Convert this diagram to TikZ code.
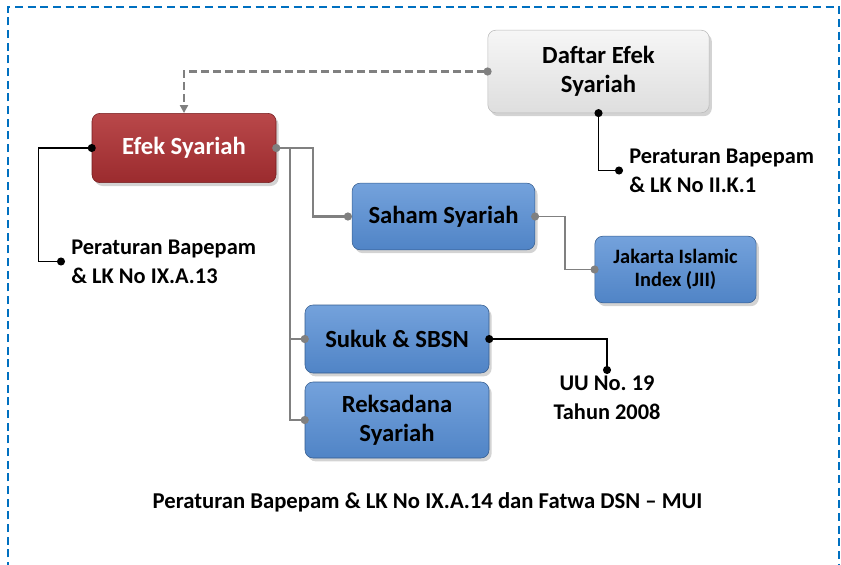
\documentclass[tikz,border=0pt]{standalone}
\usepackage{fontspec}
\setmainfont{Carlito}
\usetikzlibrary{arrows.meta,shadows}

\definecolor{frameblue}{RGB}{0,112,192}
\definecolor{efekfill}{RGB}{155,43,46}
\definecolor{efektop}{RGB}{185,72,74}
\definecolor{efekline}{RGB}{115,28,30}
\definecolor{bluefill}{RGB}{80,132,198}
\definecolor{bluetop}{RGB}{116,162,220}
\definecolor{blueline}{RGB}{52,92,142}
\definecolor{greyfill}{RGB}{222,222,222}
\definecolor{greytop}{RGB}{246,246,246}
\definecolor{greyline}{RGB}{185,185,185}
\definecolor{linkgrey}{RGB}{128,128,128}

\tikzset{
  box/.style={draw, rounded corners=6pt, align=center,
    font=\bfseries\fontsize{18.5}{21.75}\selectfont,
    drop shadow={shadow xshift=2pt, shadow yshift=-2.5pt, opacity=0.35}},
  redbox/.style={box, draw=efekline, top color=efektop, bottom color=efekfill, text=white},
  bluebox/.style={box, draw=blueline, top color=bluetop, bottom color=bluefill, text=black},
  greybox/.style={box, draw=greyline, top color=greytop, bottom color=greyfill, text=black},
  note/.style={align=left, inner xsep=7.5pt, font=\bfseries\fontsize{16.8}{21.75}\selectfont},
  blackdot/.style={draw=black, line width=1pt, {Circle[length=6pt]}-{Circle[length=6pt]},
    shorten <=-3pt, shorten >=-3pt},
  greydot/.style={draw=linkgrey, {Circle[length=6pt]}-{Circle[length=6pt]}, shorten <=-3pt}
}

\begin{document}
\begin{tikzpicture}[x=0.75pt, y=-0.75pt]
\useasboundingbox (0,0) rectangle (841,564);
\draw[frameblue, line width=1.3pt, dash pattern=on 6pt off 3.5pt] (8,570) -- (8,7) -- (839,7) -- (839,570);

\node[redbox, minimum width=138pt, minimum height=52pt] (efek) at (184,148) {Efek Syariah};
\node[greybox, minimum width=166pt, minimum height=62pt] (daftar) at (598.5,71.5) {Daftar Efek\\Syariah};
\node[bluebox, minimum width=137pt, minimum height=50pt] (saham) at (443.5,216.5) {Saham Syariah};
\node[bluebox, minimum width=121pt, minimum height=50pt, font=\bfseries\fontsize{15.3}{17.25}\selectfont] (jii) at (675.5,269.5) {Jakarta Islamic\\Index (JII)};
\node[bluebox, minimum width=138pt, minimum height=51pt] (sukuk) at (397,339) {Sukuk \& SBSN};
\node[bluebox, minimum width=138pt, minimum height=57pt] (reksa) at (397,420) {Reksadana\\Syariah};

\node[note, anchor=west] (pbx13) at (61,261.5) {Peraturan Bapepam\\\& LK No IX.A.13};
\node[note, anchor=west] (pbk1) at (619,170.5) {Peraturan Bapepam\\\& LK No II.K.1};
\node[note, align=center, anchor=north, inner ysep=4pt] (uu) at (607,370) {UU No.\ 19\\Tahun 2008};
\node[font=\bfseries\fontsize{17}{20}\selectfont] (fatwa) at (427.5,502) {Peraturan Bapepam \& LK No IX.A.14 dan Fatwa DSN -- MUI};

\coordinate (trunk) at (290,148);

% dashed link from the list to efek
\draw[linkgrey, line width=2.2pt, dash pattern=on 6pt off 3pt, {Circle[length=6pt]}-{Triangle[length=6pt,width=6pt]}, shorten <=-3pt]
  (daftar.west) -| (efek.north);

% regulations
\draw[blackdot] (efek.west) -- ++(-53,0) |- (pbx13.west);
\draw[blackdot] (daftar.south) |- (pbk1.west);
\draw[blackdot] (sukuk.east) -| (uu.north);

% branches of efek
\draw[greydot, line width=2.2pt] (efek.east) -- (313,148) |- (saham.west);
\draw[linkgrey, line width=2.2pt, -{Circle[length=6pt]}, shorten >=-3pt] (trunk) |- (sukuk.west);
\draw[linkgrey, line width=2.2pt, -{Circle[length=6pt]}, shorten >=-3pt] (trunk) |- (reksa.west);
\draw[greydot, line width=1.2pt, shorten >=-3pt] (saham.east) -- ++(30,0) |- (jii.west);
\end{tikzpicture}
\end{document}
